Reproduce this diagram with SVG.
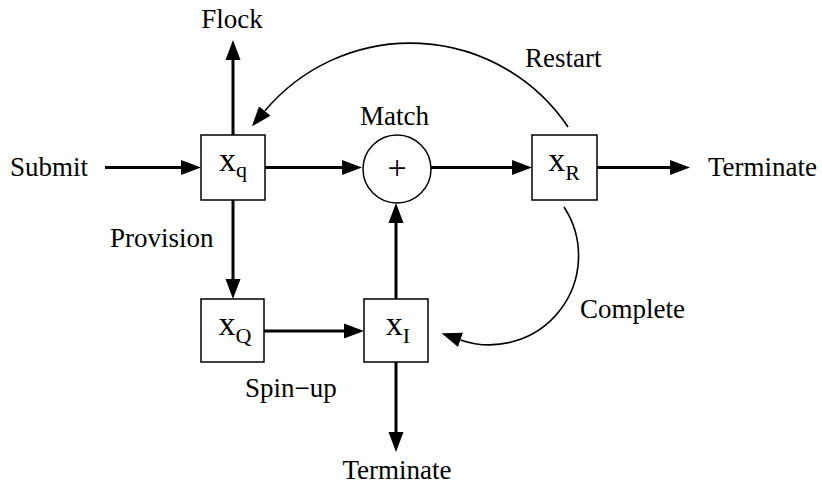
<svg xmlns="http://www.w3.org/2000/svg" width="822" height="496" viewBox="0 0 822 496">
<defs>
<marker id="ah" markerUnits="userSpaceOnUse" markerWidth="22" markerHeight="16" viewBox="0 -8 22 16" refX="0" refY="0" orient="auto">
<path d="M0,-7.5 L20,0 L0,7.5 z" fill="#000"/>
</marker>
<style>
.box{fill:#fff;stroke:#000;stroke-width:1.5}
.lbl{font-family:"Liberation Serif","Times New Roman",serif;font-size:27px;fill:#000}
.var{font-family:"Liberation Serif","Times New Roman",serif;font-size:34px;fill:#000}
.sub{font-size:22px}
.thick{fill:none;stroke:#000;stroke-width:3}
.thin{fill:none;stroke:#000;stroke-width:1.6}
</style>
</defs>
<rect width="822" height="496" fill="#fff"/>
<g id="connectors">
<line class="thick" x1="105" y1="167.5" x2="181" y2="167.5" marker-end="url(#ah)"/>
<line class="thick" x1="233" y1="135" x2="233" y2="60" marker-end="url(#ah)"/>
<line class="thick" x1="265" y1="167.5" x2="342" y2="167.5" marker-end="url(#ah)"/>
<line class="thick" x1="431" y1="167.5" x2="512" y2="167.5" marker-end="url(#ah)"/>
<line class="thick" x1="597" y1="167.5" x2="670" y2="167.5" marker-end="url(#ah)"/>
<line class="thick" x1="233" y1="200" x2="233" y2="279" marker-end="url(#ah)"/>
<line class="thick" x1="264" y1="331" x2="344" y2="331" marker-end="url(#ah)"/>
<line class="thick" x1="396" y1="299" x2="396" y2="223" marker-end="url(#ah)"/>
<line class="thick" x1="396" y1="362" x2="396" y2="432" marker-end="url(#ah)"/>
<path class="thin" d="M568,127 A190,190 0 0 0 264.8,111" marker-end="url(#ah)"/>
<path class="thin" d="M564,207 A89,89 0 0 1 460.5,339.9" marker-end="url(#ah)"/>
</g>
<g id="node-xq">
<rect class="box" x="201" y="135" width="64" height="65"/>
<text class="var" x="233" y="171" text-anchor="middle">x<tspan class="sub" dy="6">q</tspan></text>
</g>
<g id="node-match">
<circle class="box" cx="397" cy="169" r="34"/>
<text class="var" x="397" y="179" text-anchor="middle">+</text>
</g>
<g id="node-xR">
<rect class="box" x="532" y="135" width="65" height="65"/>
<text class="var" x="564" y="171" text-anchor="middle">x<tspan class="sub" dy="9">R</tspan></text>
</g>
<g id="node-xQ">
<rect class="box" x="201" y="299" width="63" height="63"/>
<text class="var" x="235" y="335" text-anchor="middle">x<tspan class="sub" dy="8">Q</tspan></text>
</g>
<g id="node-xI">
<rect class="box" x="364" y="299" width="64" height="63"/>
<text class="var" x="398" y="335" text-anchor="middle">x<tspan class="sub" dy="8">I</tspan></text>
</g>
<g id="labels">
<text class="lbl" x="232" y="28" text-anchor="middle">Flock</text>
<text class="lbl" x="10" y="176">Submit</text>
<text class="lbl" x="110" y="247">Provision</text>
<text class="lbl" x="360" y="125">Match</text>
<text class="lbl" x="525" y="67">Restart</text>
<text class="lbl" x="708" y="176">Terminate</text>
<text class="lbl" x="580" y="318">Complete</text>
<text class="lbl" x="245" y="397">Spin−up</text>
<text class="lbl" x="397" y="479" text-anchor="middle">Terminate</text>
</g>
</svg>
